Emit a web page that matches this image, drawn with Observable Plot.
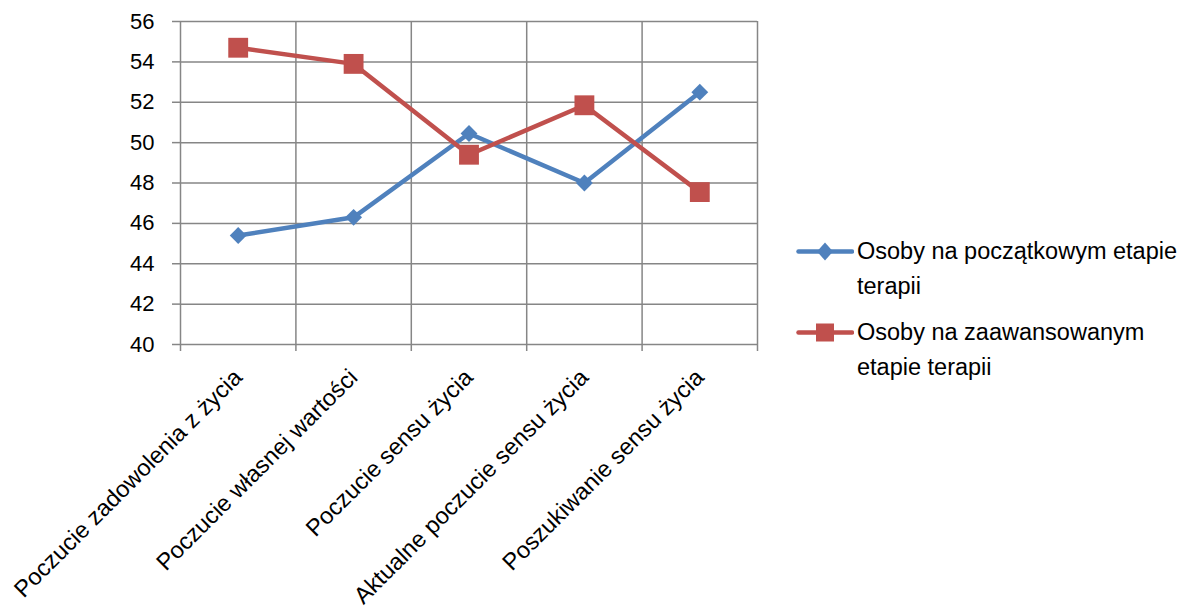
<!DOCTYPE html>
<html>
<head>
<meta charset="utf-8">
<script src="https://cdn.jsdelivr.net/npm/d3@7"></script>
<script src="https://cdn.jsdelivr.net/npm/@observablehq/plot@0.6"></script>
<style>
  body { margin: 0; background: #fff; }
  #wrap { position: relative; width: 1195px; height: 610px; font-family: "Liberation Sans", Arial, sans-serif; }
  #legend { position: absolute; left: 796px; top: 234px; font-size: 23.5px; color: #000; line-height: 35px; }
  .item { display: flex; align-items: flex-start; margin-bottom: 11px; }
  .item svg { flex: none; }
  .item span { margin-left: 3px; white-space: nowrap; }
</style>
</head>
<body>
<div id="wrap"><div id="legend"></div></div>
<script>
const categories = [
  "Poczucie zadowolenia z życia",
  "Poczucie własnej wartości",
  "Poczucie sensu życia",
  "Aktualne poczucie sensu życia",
  "Poszukiwanie sensu życia"
];
const seriesNames = ["Osoby na początkowym etapie terapii", "Osoby na zaawansowanym etapie terapii"];
const legendLines = [["Osoby na początkowym etapie", "terapii"], ["Osoby na zaawansowanym", "etapie terapii"]];
const initialValues = [45.4, 46.3, 50.45, 48.0, 52.5];
const advancedValues = [54.7, 53.9, 49.4, 51.85, 47.55];
const yTicks = [40, 42, 44, 46, 48, 50, 52, 54, 56];
const colors = ["#4F81BD", "#C0504D"];

const data = [];
categories.forEach((c, i) => {
  data.push({cat: c, i, series: seriesNames[0], value: initialValues[i]});
  data.push({cat: c, i, series: seriesNames[1], value: advancedValues[i]});
});
const bounds = d3.range(categories.length + 1);
const grid = "#868686";

const chart = Plot.plot({
  width: 1195,
  height: 610,
  marginLeft: 180,
  marginRight: 438,
  marginTop: 21,
  marginBottom: 266,
  style: {fontFamily: "Liberation Sans, Arial, sans-serif", fontSize: "22px", color: "#000", background: "#fff"},
  x: {type: "linear", domain: [0, categories.length], axis: null},
  y: {domain: [40, 56], axis: null},
  color: {domain: seriesNames, range: colors},
  marks: [
    Plot.ruleY(yTicks, {stroke: grid, strokeWidth: 1.5}),
    Plot.ruleX(bounds, {y1: 40, y2: 56, stroke: grid, strokeWidth: 1.5}),
    Plot.axisY(yTicks, {tickSize: 8, tickPadding: 18, stroke: grid, strokeWidth: 1.5, fontSize: 22, label: null, fill: "#000"}),
    Plot.axisX(bounds, {tickSize: 7, stroke: grid, strokeWidth: 1.5, tickFormat: () => "", label: null}),
    Plot.text(categories, {x: (d, i) => i + 0.5, y: () => 40, text: d => d, rotate: -45, textAnchor: "end", lineAnchor: "middle", dx: 0, dy: 29, fontSize: 23.5, fill: "#000"}),
    Plot.line(data, {x: d => d.i + 0.5, y: "value", z: "series", stroke: "series", strokeWidth: 4.5}),
    Plot.dot(data.filter(d => d.series === seriesNames[0]), {x: d => d.i + 0.5, y: "value", symbol: "diamond2", r: 7.6, fill: colors[0], stroke: null}),
    Plot.dot(data.filter(d => d.series === seriesNames[1]), {x: d => d.i + 0.5, y: "value", symbol: "square", r: 11.2, fill: colors[1], stroke: null})
  ]
});
document.getElementById("wrap").prepend(chart);
chart.style.position = "absolute";
chart.style.left = "0";
chart.style.top = "0";

const legend = document.getElementById("legend");
legendLines.forEach((lines, k) => {
  const item = document.createElement("div");
  item.className = "item";
  const marker = k === 0
    ? `<polygon points="29,8.5 37,17.5 29,26.5 21,17.5" fill="${colors[0]}"/>`
    : `<rect x="20" y="8.5" width="18" height="18" fill="${colors[1]}"/>`;
  item.innerHTML = `<svg width="58" height="35"><line x1="2.5" x2="56" y1="17.5" y2="17.5" stroke="${colors[k]}" stroke-width="4.5" stroke-linecap="round"/>${marker}</svg><span>${lines.join("<br>")}</span>`;
  legend.appendChild(item);
});
</script>
</body>
</html>
